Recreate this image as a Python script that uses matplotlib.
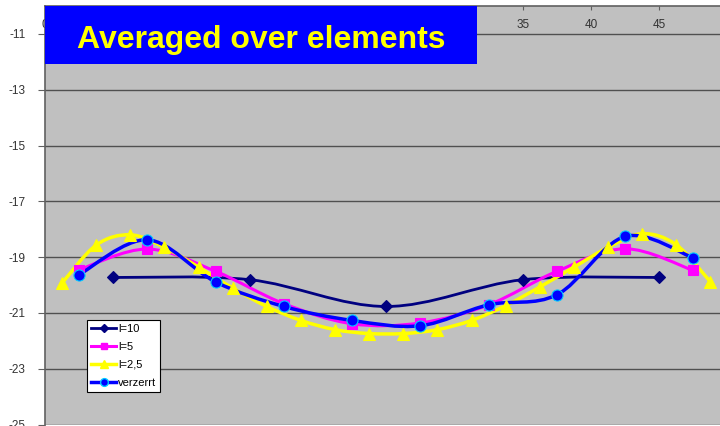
import matplotlib
matplotlib.use("Agg")
import matplotlib.pyplot as plt
from matplotlib.path import Path
from matplotlib.patches import PathPatch, Rectangle
import numpy as np

plt.rcParams['font.family'] = ['Liberation Sans', 'DejaVu Sans']
plt.rcParams['axes.unicode_minus'] = False

# element positions (mid points) for each element length
x_l10 = [5, 15, 25, 35, 45]
x_l5 = [2.5, 7.5, 12.5, 17.5, 22.5, 27.5, 32.5, 37.5, 42.5, 47.5]
x_l25 = [1.25, 3.75, 6.25, 8.75, 11.25, 13.75, 16.25, 18.75, 21.25, 23.75,
         26.25, 28.75, 31.25, 33.75, 36.25, 38.75, 41.25, 43.75, 46.25, 48.75]
x_verz = [2.5, 7.5, 12.5, 17.5, 22.5, 27.5, 32.5, 37.5, 42.5, 47.5]

# averaged values
y_l10 = [-19.73, -19.81, -20.77, -19.81, -19.73]
y_l5 = [-19.45, -18.71, -19.51, -20.67, -21.39, -21.36, -20.71, -19.51, -18.70, -19.48]
y_l25 = [-19.93, -18.57, -18.20, -18.65, -19.36, -20.11, -20.77, -21.27, -21.60, -21.74,
         -21.74, -21.60, -21.27, -20.74, -20.07, -19.36, -18.65, -18.16, -18.56, -19.89]
y_verz = [-19.63, -18.38, -19.89, -20.77, -21.27, -21.46, -20.71, -20.35, -18.26, -19.03]

labels = ["l=10", "l=5", "l=2,5", "verzerrt"]
y_ticks = [-25, -23, -21, -19, -17, -15, -13, -11]
x_ticks = [0, 5, 10, 15, 20, 25, 30, 35, 40, 45]
# 5..30 sit under the title box anyway
x_ticklabels = ["0", "", "", "", "", "", "", "35", "40", "45"]


def smooth_path(x, y):
    # bezier through the points, like a smoothed spreadsheet line
    p = np.column_stack([x, y]).astype(float)
    n = len(p)
    verts = [p[0]]
    codes = [Path.MOVETO]
    for i in range(n - 1):
        p0 = p[i - 1] if i > 0 else p[i]
        p3 = p[i + 2] if i + 2 < n else p[i + 1]
        c1 = p[i] + (p[i + 1] - p0) / 6
        c2 = p[i + 1] - (p3 - p[i]) / 6
        verts += [c1, c2, p[i + 1]]
        codes += [Path.CURVE4] * 3
    return Path(verts, codes)


fig = plt.figure(figsize=(7.2, 4.26), dpi=100)
ax = fig.add_axes([45 / 720, 1.5 / 426, 675 / 720, 418.5 / 426])
ax.set_facecolor('#c0c0c0')

series = [
    (x_l10, y_l10, '#000080', 'D', 6, '#000080', 2.0),
    (x_l5, y_l5, '#ff00ff', 's', 7, '#ff00ff', 2.2),
    (x_l25, y_l25, '#ffff00', '^', 8, '#ffff00', 2.5),
    (x_verz, y_verz, '#0000ff', 'o', 8, '#00ccff', 2.5),
]

for (xs, ys, col, mk, ms, mec, lw), lab in zip(series, labels):
    ax.add_patch(PathPatch(smooth_path(xs, ys), facecolor='none', edgecolor=col,
                           lw=lw, zorder=3))
    ax.plot(xs, ys, linestyle='none', marker=mk, ms=ms, color=col,
            markeredgecolor=mec, markeredgewidth=0.8, zorder=4)
    ax.plot([], [], color=col, lw=lw, marker=mk, ms=ms * 0.7,
            markeredgecolor=mec, label=lab)

ax.set_xlim(0, 49.45)
ax.set_ylim(-25, -10)
ax.set_yticks(y_ticks)
ax.set_xticks(x_ticks)
ax.set_xticklabels(x_ticklabels)
ax.grid(axis='y', color='#505050', lw=1)
ax.grid(axis='x', visible=False)
ax.set_axisbelow(True)

for s in ['right', 'bottom']:
    ax.spines[s].set_visible(False)
for s in ['left', 'top']:
    ax.spines[s].set_color('#606060')
    ax.spines[s].set_linewidth(1.2)

ax.tick_params(axis='y', direction='out', length=5, color='#606060',
               labelsize=8.5, labelcolor='#333333', pad=9)
ax.xaxis.tick_top()
ax.tick_params(axis='x', top=True, labeltop=True, bottom=False, labelbottom=False,
               direction='in', length=3, color='#606060',
               labelsize=8.5, labelcolor='#333333', pad=-18)

leg = ax.legend(loc='upper left', bbox_to_anchor=(0.062, 0.25), borderaxespad=0,
                fontsize=8, frameon=True, fancybox=False, edgecolor='black',
                framealpha=1, handlelength=2.3, handletextpad=0.15,
                labelspacing=0.72, borderpad=0.35)
leg.get_frame().set_linewidth(0.8)

# title box on top of the axis labels
fig.patches.append(Rectangle((45 / 720, 1 - 63.5 / 426), 432 / 720, 57 / 426,
                             transform=fig.transFigure, facecolor='#0000ff',
                             edgecolor='none', zorder=5))
fig.text(261 / 720, 1 - 47.7 / 426, "Averaged over elements", color='#ffff00',
         fontsize=23, fontweight='bold', ha='center', va='baseline', zorder=6)

fig.savefig('out.png', dpi=100)
